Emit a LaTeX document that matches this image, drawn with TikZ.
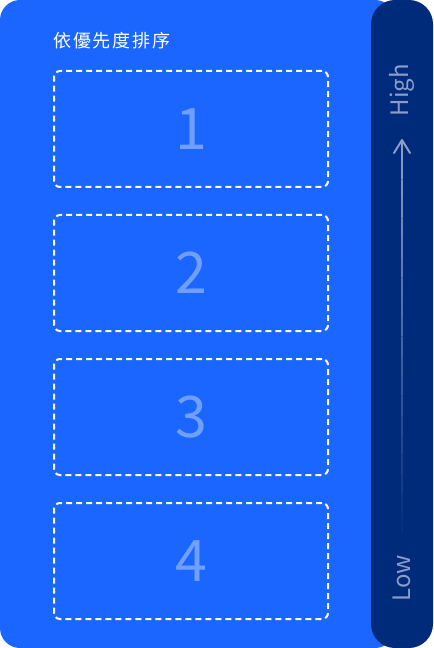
\documentclass[tikz,border=0pt]{standalone}
\usepackage{fontspec}
\setmainfont{Noto Sans CJK TC}
\usetikzlibrary{arrows.meta,calc}
\definecolor{panelblue}{RGB}{26,102,255}
\definecolor{barnavy}{RGB}{0,42,122}
\definecolor{numblue}{RGB}{112,160,255}
\definecolor{tickgray}{RGB}{138,156,204}
\tikzset{
  rankbox/.style={draw=white,line width=1.5pt,dash pattern=on 4.5pt off 3pt,
    rounded corners=4.5pt,minimum width=205.5pt,minimum height=87pt,inner sep=0pt,
    font=\fontsize{43}{43}\selectfont,text=numblue},
  levellabel/.style={rotate=90,text=tickgray,font=\fontsize{18}{18}\selectfont,inner sep=0pt}
}
\begin{document}
\begin{tikzpicture}[x=0.75pt,y=-0.75pt]
	\useasboundingbox (0,0) rectangle (433,648);

	% Panels
	\fill[panelblue,rounded corners=15pt] (0,0) rectangle (395,648);
	\fill[barnavy,rounded corners=18pt] (371,0) rectangle (433,648);

	% Title
	\node[anchor=west,text=white,font=\fontsize{13.5}{14}\selectfont\addfontfeature{LetterSpace=10},inner sep=0pt] (title) at (53,41) {依優先度排序};

	% Boxes
	\foreach \n in {1,...,4}
		\node[rankbox] (box\n) at (191,{129+144*(\n-1)}) {\n};

	% Scale
	\node[levellabel] (high) at (402,90) {High};
	\node[levellabel] (low) at (402,578) {Low};
	\coordinate (tip) at (402,140);
	\coordinate (tail) at (402,533);
	\foreach \i in {0,...,19}
		\draw[line width=1.2pt,tickgray!\the\numexpr 100-\i*5\relax!barnavy]
			($(tip)!{\i/20}!(tail)$) -- ($(tip)!{(\i+1)/20}!(tail)$);
	\draw[tickgray,line width=1.5pt,line cap=round,line join=round] (394,153) -- (tip) -- (410,153);

\end{tikzpicture}
\end{document}
